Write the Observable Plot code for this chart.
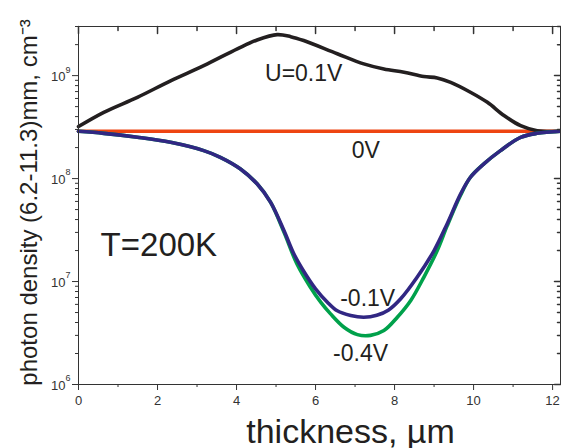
<!DOCTYPE html>
<html>
<head>
<meta charset="utf-8">
<script src="https://cdn.jsdelivr.net/npm/d3@7"></script>
<script src="https://cdn.jsdelivr.net/npm/@observablehq/plot@0.6"></script>
<style>
  html, body { margin: 0; padding: 0; background: #fff; }
  #chart { width: 561px; height: 448px; }
</style>
</head>
<body>
<div id="chart"></div>
<script>
// ---- data ----
const seriesNames = ["U=0.1V", "0V", "-0.4V", "-0.1V"];

const thicknessPos = [0, 0.64, 1.49, 2.33, 3.17, 4.02, 4.52, 5.03, 5.37, 5.70, 6.55, 7.22, 7.73, 8.24, 8.74, 9.08, 9.42, 9.92, 10.35, 10.77, 11.19, 11.61, 12.2];
const densityPos = [3.2e8, 4.4e8, 6.15e8, 8.9e8, 1.25e9, 1.82e9, 2.22e9, 2.5e9, 2.39e9, 2.19e9, 1.63e9, 1.3e9, 1.16e9, 1.08e9, 9.8e8, 9.5e8, 8.6e8, 6.9e8, 5.5e8, 4.1e8, 3.27e8, 2.92e8, 2.88e8];

const thicknessZero = [0, 12.2];
const densityZero = [2.88e8, 2.88e8];

const thicknessNeg01 = [0, 0.64, 1.49, 2.33, 3.17, 3.59, 4.10, 4.52, 4.86, 5.20, 5.45, 5.70, 6.00, 6.30, 6.55, 6.89, 7.22, 7.55, 7.85, 8.15, 8.57, 9.0, 9.33, 9.67, 9.92, 10.26, 10.68, 11.19, 11.61, 12.2];
const densityNeg01 = [2.88e8, 2.75e8, 2.52e8, 2.25e8, 1.87e8, 1.61e8, 1.24e8, 8.9e7, 5.9e7, 3.13e7, 1.86e7, 1.26e7, 8.5e6, 6.3e6, 5.2e6, 4.68e6, 4.5e6, 4.7e6, 5.3e6, 6.76e6, 1.1e7, 2.0e7, 3.63e7, 7.08e7, 1.03e8, 1.39e8, 1.87e8, 2.51e8, 2.75e8, 2.88e8];

const thicknessNeg04 = [0, 0.64, 1.49, 2.33, 3.17, 3.59, 4.10, 4.52, 4.86, 5.20, 5.53, 5.87, 6.13, 6.38, 6.72, 7.06, 7.39, 7.73, 8.07, 8.41, 8.74, 9.08, 9.33, 9.67, 9.92, 10.26, 10.68, 11.19, 11.61, 12.2];
const densityNeg04 = [2.88e8, 2.75e8, 2.52e8, 2.25e8, 1.87e8, 1.61e8, 1.24e8, 8.9e7, 5.9e7, 3.02e7, 1.48e7, 8.8e6, 6.3e6, 4.85e6, 3.6e6, 3.05e6, 3.0e6, 3.34e6, 4.5e6, 6.55e6, 1.1e7, 2.0e7, 3.47e7, 6.9e7, 1.03e8, 1.39e8, 1.87e8, 2.51e8, 2.75e8, 2.88e8];

// tick values and labels
const xMajorTicks = [0, 2, 4, 6, 8, 10, 12];
const xMinorTicks = [1, 3, 5, 7, 9, 11];
const yMajorTicks = [1e6, 1e7, 1e8, 1e9];
const yTickBase = ["10", "10", "10", "10"];
const yTickExponents = ["6", "7", "8", "9"];
const yMinorTicks = [];
for (const dec of [1e6, 1e7, 1e8, 1e9]) for (let m = 2; m <= 9; m++) if (m * dec <= 3e9) yMinorTicks.push(m * dec);

// annotations (anchors in data units)
const labelTexts = ["U=0.1V", "0V", "-0.1V", "-0.4V"];
const labelX = [5.70, 7.27, 7.32, 7.14];
const labelY = [8.9e8, 1.6e8, 5.85e6, 1.71e6];
const tempText = ["T=200K"];
const tempX = [0.56];
const tempY = [1.79e7];

const xTitle = "thickness, \u00b5m";
const yTitle = "photon density (6.2-11.3)mm, cm\u207b\u00b3";

// ---- build tables ----
const toRows = (xs, ys, name) => xs.map((x, i) => ({x, y: ys[i], s: name}));
const rowsPos = toRows(thicknessPos, densityPos, seriesNames[0]);
const rowsZero = toRows(thicknessZero, densityZero, seriesNames[1]);
const rowsNeg04 = toRows(thicknessNeg04, densityNeg04, seriesNames[2]);
const rowsNeg01 = toRows(thicknessNeg01, densityNeg01, seriesNames[3]);
const labels = labelTexts.map((t, i) => ({t, x: labelX[i], y: labelY[i]}));
const temp = tempText.map((t, i) => ({t, x: tempX[i], y: tempY[i]}));
const yTicks = yMajorTicks.map((v, i) => ({v, base: yTickBase[i], exp: yTickExponents[i]}));

const tickShape = {draw(context, l) { context.moveTo(0, 0); context.lineTo(0, -l); }};
const ink = "#231f20";
const font = "'Liberation Sans', Arial, sans-serif";

const chart = Plot.plot({
  width: 561,
  height: 448,
  marginLeft: 78,
  marginRight: 1,
  marginTop: 26,
  marginBottom: 64,
  style: {fontFamily: font, background: "#fff", color: ink, overflow: "visible"},
  x: {domain: [0, 12.2], axis: null},
  y: {type: "log", domain: [1e6, 3e9], axis: null},
  marks: [
    // curves
    Plot.line(rowsZero, {x: "x", y: "y", stroke: "#ee4512", strokeWidth: 3.6}),
    Plot.line(rowsPos, {x: "x", y: "y", stroke: ink, strokeWidth: 3.6, curve: "catmull-rom"}),
    Plot.line(rowsNeg04, {x: "x", y: "y", stroke: "#00a14b", strokeWidth: 3.6, curve: "catmull-rom"}),
    Plot.line(rowsNeg01, {x: "x", y: "y", stroke: "#312783", strokeWidth: 3.6, curve: "catmull-rom"}),
    // frame
    Plot.frame({stroke: "#333", strokeWidth: 1}),
    // bottom axis (outward ticks)
    Plot.axisX(xMajorTicks, {anchor: "bottom", tickSize: 6, tickPadding: 5, fontSize: 13, fill: "#333", stroke: "#333", label: null, tickFormat: d => String(d)}),
    Plot.axisX(xMinorTicks, {anchor: "bottom", tickSize: 3, tickFormat: () => "", stroke: "#333", label: null}),
    // top axis (inward ticks)
    Plot.vector(xMajorTicks, {x: d => d, frameAnchor: "top", length: 7, rotate: 180, anchor: "start", shape: tickShape, stroke: "#333"}),
    Plot.vector(xMinorTicks, {x: d => d, frameAnchor: "top", length: 4, rotate: 180, anchor: "start", shape: tickShape, stroke: "#333"}),
    // left axis (outward ticks)
    Plot.axisY(yMajorTicks, {anchor: "left", tickSize: 6, tickFormat: () => "", stroke: "#333", label: null}),
    Plot.axisY(yMinorTicks, {anchor: "left", tickSize: 3, tickFormat: () => "", stroke: "#333", label: null}),
    Plot.text(yTicks, {y: "v", frameAnchor: "left", text: "base", textAnchor: "end", dx: -13, dy: 1, fontSize: 13, fill: "#333"}),
    Plot.text(yTicks, {y: "v", frameAnchor: "left", text: "exp", textAnchor: "start", dx: -13, dy: -6, fontSize: 9, fill: "#333"}),
    // right axis (inward ticks)
    Plot.vector(yMajorTicks, {y: d => d, frameAnchor: "right", length: 6, rotate: -90, anchor: "start", shape: tickShape, stroke: "#333"}),
    Plot.vector(yMinorTicks, {y: d => d, frameAnchor: "right", length: 3, rotate: -90, anchor: "start", shape: tickShape, stroke: "#333"}),
    // annotations
    Plot.text(labels, {x: "x", y: "y", text: "t", textAnchor: "middle", lineAnchor: "bottom", fontSize: 23, fill: ink}),
    Plot.text(temp, {x: "x", y: "y", text: "t", textAnchor: "start", lineAnchor: "bottom", fontSize: 33, fill: ink}),
    // axis titles
    Plot.text([xTitle], {frameAnchor: "bottom", text: d => d, textAnchor: "middle", lineAnchor: "bottom", dx: 31, dy: 58, fontSize: 34, fill: ink}),
    Plot.text([yTitle], {frameAnchor: "left", text: d => d, rotate: -90, textAnchor: "middle", lineAnchor: "middle", dx: -49, dy: -3, fontSize: 24, fill: ink})
  ]
});
document.getElementById("chart").appendChild(chart);
</script>
</body>
</html>
